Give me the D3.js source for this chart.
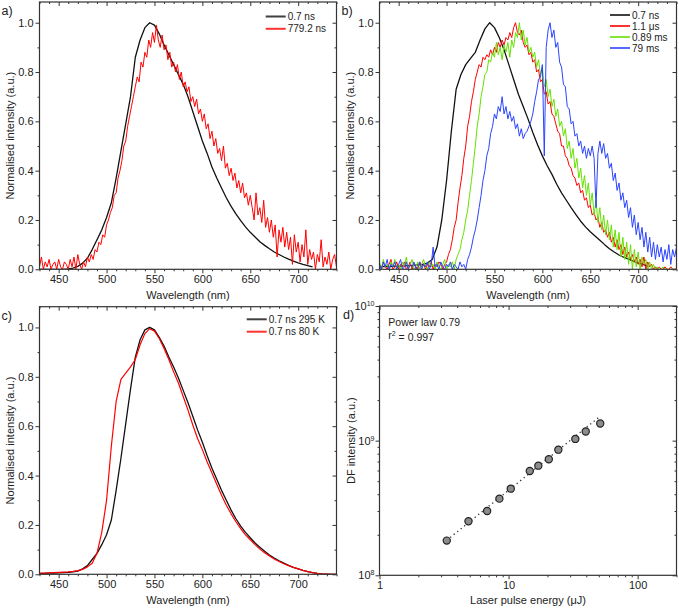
<!DOCTYPE html>
<html><head><meta charset="utf-8">
<script src="https://cdnjs.cloudflare.com/ajax/libs/d3/7.8.5/d3.min.js"></script>
<style>body{margin:0;background:#fff}svg{display:block}text{font-family:"Liberation Sans",Arial,sans-serif;fill:#222}</style>
</head><body><svg id="c" width="679" height="610"></svg>
<script>
// ---------- DATA ----------
const wlStart = 430;          // first wavelength (nm)
const smoothStep = 5;         // sampling of smooth spectra (nm)
const noisyStep = 2;          // sampling of noisy spectra (nm)
const xTickVals = [450, 500, 550, 600, 650, 700];
const xMinorVals = [430,440,460,470,480,490,510,520,530,540,560,570,580,590,610,620,630,640,660,670,680,690,710,720,730,740];
const yTickVals = [0, 0.2, 0.4, 0.6, 0.8, 1.0];
const yMinorVals = [0.1, 0.3, 0.5, 0.7, 0.9];

// panel a
const aBlack = [0,0,0,0,0,0,0.002,0.005,0.012,0.025,0.045,0.08,0.12,0.16,0.21,0.27,0.37,0.48,0.59,0.70,0.86,0.93,0.98,1.0,0.99,0.955,0.91,0.87,0.83,0.79,0.75,0.70,0.64,0.58,0.52,0.47,0.415,0.37,0.33,0.29,0.255,0.225,0.197,0.172,0.15,0.131,0.112,0.097,0.083,0.07,0.06,0.05,0.041,0.033,0.026,0.02,0.015,0.01];
const aRed = [
0.01,0.05,0.00,0.03,0.01, 0.04,0.00,0.02,0.03,0.00, 0.04,0.01,0.00,0.03,0.02, 0.00,0.04,0.01,0.05,0.00,
0.06,0.02,0.00,0.03,0.01, 0.05,0.03,0.06,0.04,0.08, 0.07,0.11,0.10,0.14,0.13, 0.18,0.20,0.23,0.25,0.30,
0.31,0.37,0.40,0.44,0.50, 0.52,0.58,0.62,0.66,0.70, 0.74,0.78,0.76,0.84,0.82, 0.88,0.86,0.93,0.90,0.96,
0.92,0.99,0.93,0.90,0.95, 0.89,0.91,0.85,0.88,0.82, 0.84,0.80,0.83,0.77,0.80, 0.74,0.76,0.72,0.74,0.68,
0.70,0.66,0.69,0.63,0.65, 0.60,0.63,0.57,0.59,0.53, 0.56,0.50,0.53,0.47,0.49, 0.44,0.50,0.41,0.43,0.38,
0.41,0.36,0.39,0.33,0.36, 0.31,0.35,0.29,0.31,0.26, 0.30,0.25,0.20,0.31,0.22, 0.25,0.19,0.28,0.17,0.21,
0.15,0.20,0.13,0.18,0.05, 0.16,0.11,0.17,0.09,0.15, 0.08,0.13,0.02,0.14,0.07, 0.11,0.03,0.10,0.05,0.16,
0.02,0.08,0.04,0.07,0.00, 0.06,0.03,0.12,0.01,0.05, 0.02,0.07,0.00,0.04,0.06, 0.01];

// panel b
const bBlack = [0.01,0.012,0.01,0.013,0.012,0.014,0.015,0.016,0.018,0.02,0.025,0.04,0.09,0.2,0.36,0.56,0.73,0.79,0.83,0.855,0.88,0.93,0.975,1.0,0.98,0.94,0.89,0.83,0.77,0.71,0.66,0.61,0.555,0.505,0.46,0.42,0.385,0.345,0.31,0.28,0.25,0.222,0.195,0.172,0.152,0.135,0.118,0.1,0.083,0.07,0.058,0.049,0.041,0.033,0.025,0.02,0.013];
const bRed = [
0.02,0.00,0.03,0.01,0.00, 0.02,0.04,0.00,0.01,0.03, 0.00,0.02,0.01,0.03,0.00, 0.01,0.03,0.00,0.02,0.01,
0.00,0.03,0.01,0.02,0.00, 0.02,0.01,0.03,0.00,0.02, 0.01,0.03,0.02,0.00,0.02, 0.03,0.06,0.08,0.12,0.17,
0.20,0.27,0.33,0.38,0.45, 0.50,0.58,0.62,0.68,0.72, 0.77,0.80,0.83,0.82,0.86, 0.85,0.87,0.86,0.89,0.87,
0.90,0.88,0.92,0.90,0.93, 0.91,0.94,0.93,0.96,0.94, 0.98,1.00,0.96,0.95,0.97, 0.92,0.90,0.91,0.87,0.88,
0.84,0.85,0.80,0.81,0.76, 0.77,0.71,0.72,0.67,0.68, 0.63,0.62,0.59,0.56,0.55, 0.50,0.50,0.46,0.45,0.42,
0.41,0.38,0.37,0.34,0.35, 0.31,0.32,0.28,0.29,0.25, 0.26,0.22,0.23,0.20,0.21, 0.17,0.19,0.15,0.16,0.13,
0.15,0.11,0.13,0.09,0.12, 0.08,0.10,0.06,0.09,0.05, 0.07,0.04,0.06,0.03,0.05, 0.02,0.04,0.01,0.05,0.00,
0.03,0.01,0.02,0.00,0.01, 0.00,0.01,0.00,0.00,0.01, 0.00,0.00,0.01,0.00,0.00, 0.00];
const bGreen = [
0.03,0.00,0.04,0.01,0.02, 0.00,0.03,0.01,0.04,0.00, 0.02,0.00,0.03,0.01,0.05, 0.00,0.02,0.04,0.00,0.01,
0.03,0.00,0.02,0.04,0.01, 0.00,0.03,0.01,0.02,0.00, 0.03,0.01,0.00,0.02,0.04, 0.00,0.02,0.01,0.03,0.00,
0.04,0.06,0.08,0.12,0.15, 0.20,0.24,0.30,0.36,0.43, 0.50,0.58,0.63,0.70,0.74, 0.79,0.80,0.85,0.84,0.88,
0.86,0.92,0.87,0.90,0.85, 0.91,0.88,0.92,0.86,0.93, 0.90,0.96,0.94,1.00,0.93, 0.97,0.91,0.94,0.88,0.90,
0.86,0.88,0.82,0.85,0.79, 0.82,0.74,0.77,0.70,0.73, 0.66,0.69,0.62,0.65,0.58, 0.60,0.54,0.57,0.49,0.52,
0.45,0.49,0.41,0.45,0.37, 0.41,0.33,0.38,0.30,0.35, 0.26,0.31,0.22,0.28,0.19, 0.25,0.16,0.22,0.14,0.20,
0.12,0.18,0.09,0.16,0.08, 0.15,0.05,0.13,0.04,0.11, 0.02,0.10,0.00,0.08,0.01, 0.07,0.00,0.05,0.02,0.04,
0.00,0.03,0.00,0.02,0.00, 0.01,0.00,0.00,0.01,0.00, 0.00,0.00,0.00,0.00,0.00, 0.00];
const bBlue = [
0.02,0.00,0.03,0.01,0.04, 0.00,0.02,0.01,0.03,0.00, 0.02,0.04,0.00,0.01,0.03, 0.00,0.02,0.01,0.03,0.00,
0.01,0.03,0.00,0.02,0.01, 0.03,0.00,0.02,0.09,0.01, 0.02,0.00,0.03,0.01,0.00, 0.02,0.01,0.03,0.00,0.02,
0.01,0.00,0.03,0.01,0.02, 0.00,0.04,0.06,0.09,0.13, 0.16,0.20,0.25,0.30,0.36, 0.40,0.46,0.49,0.55,0.58,
0.63,0.61,0.66,0.64,0.70, 0.63,0.66,0.61,0.64,0.60, 0.62,0.57,0.59,0.54,0.57, 0.53,0.55,0.56,0.58,0.60,
0.63,0.68,0.72,0.77,0.78, 0.83,0.46,0.90,0.97,1.00, 0.94,0.97,0.90,0.92,0.84, 0.82,0.75,0.74,0.66,0.65,
0.59,0.60,0.54,0.55,0.50, 0.52,0.47,0.50,0.45,0.49, 0.46,0.50,0.45,0.25,0.47, 0.52,0.47,0.51,0.45,0.47,
0.41,0.43,0.36,0.39,0.32, 0.35,0.28,0.31,0.25,0.28, 0.21,0.25,0.17,0.22,0.14, 0.19,0.12,0.17,0.09,0.15,
0.07,0.13,0.05,0.11,0.04, 0.10,0.05,0.09,0.03,0.08, 0.04,0.10,0.02,0.08,0.05, 0.09];

// panel c
const cBlack = [0.003,0.004,0.005,0.005,0.006,0.007,0.008,0.01,0.013,0.022,0.035,0.06,0.085,0.12,0.16,0.22,0.34,0.47,0.61,0.75,0.88,0.95,0.99,1.0,0.99,0.96,0.925,0.88,0.84,0.795,0.745,0.695,0.64,0.585,0.535,0.48,0.43,0.385,0.34,0.30,0.26,0.225,0.195,0.17,0.148,0.127,0.11,0.093,0.078,0.066,0.055,0.045,0.036,0.028,0.022,0.016,0.011,0.007,0.004,0.002,0.001,0,0];
const cRed = [0.005,0.005,0.006,0.007,0.008,0.009,0.01,0.012,0.015,0.02,0.03,0.045,0.085,0.17,0.30,0.52,0.70,0.79,0.815,0.84,0.87,0.93,0.975,0.995,0.985,0.955,0.915,0.87,0.82,0.775,0.72,0.665,0.605,0.55,0.505,0.455,0.41,0.365,0.32,0.28,0.245,0.213,0.185,0.16,0.14,0.12,0.102,0.087,0.074,0.062,0.052,0.043,0.035,0.028,0.022,0.016,0.011,0.007,0.004,0.002,0.001,0,0];

// panel d
const energy = [3.32, 4.89, 6.82, 8.49, 10.4, 14.6, 17.0, 20.5, 24.3, 32.9, 39.6, 51.3];
const dfIntensity = [1.81e8, 2.52e8, 3.00e8, 3.71e8, 4.40e8, 5.95e8, 6.52e8, 7.27e8, 8.57e8, 1.03e9, 1.17e9, 1.34e9];
const fitEnergy = [3.53, 51.3];
const fitIntensity = [1.91e8, 1.52e9];
const dXMajor = [1, 10, 100];
const dXMinor = [2,3,4,5,6,7,8,9,20,30,40,50,60,70,80,90,200];
const dYMajor = [1e8, 1e9, 1e10];
const dYMinor = [2e8,3e8,4e8,5e8,6e8,7e8,8e8,9e8,2e9,3e9,4e9,5e9,6e9,7e9,8e9,9e9];

// ---------- DRAW ----------
const svg = d3.select("#c");
const FRAME = "#333";

function styleAxis(sel, fs) {
  sel.attr("font-size", fs || 11).attr("font-family", '"Liberation Sans",Arial,sans-serif');
  sel.select(".domain").remove();
  sel.selectAll("line").attr("stroke", FRAME).attr("stroke-width", 1);
  sel.selectAll("text").attr("fill", "#222");
}
function addAxis(axis, tx, ty, fs) {
  const g = svg.append("g").attr("transform", `translate(${tx},${ty})`).call(axis);
  styleAxis(g, fs);
  return g;
}

function linPanel(p) {
  const x = d3.scaleLinear().domain([430, 740]).range([p.left, p.right]);
  const y = d3.scaleLinear().domain([0, 1.084]).range([p.bottom, p.top]);
  const clipId = "clip" + p.id;
  svg.append("clipPath").attr("id", clipId).append("rect")
    .attr("x", p.left).attr("y", p.top).attr("width", p.right - p.left).attr("height", p.bottom - p.top);
  const g = svg.append("g").attr("clip-path", `url(#${clipId})`);
  p.series.forEach(s => {
    const pts = s.values.map((v, i) => [wlStart + s.step * i, v]);
    g.append("path").datum(pts).attr("fill", "none")
      .attr("stroke", s.color).attr("stroke-width", s.width).attr("stroke-linejoin", "round")
      .attr("d", d3.line().x(d => x(d[0])).y(d => y(d[1])));
  });
  // axes
  addAxis(d3.axisBottom(x).tickValues(xTickVals).tickSizeInner(4).tickSizeOuter(0).tickPadding(2).tickFormat(d3.format("d")), 0, p.bottom);
  addAxis(d3.axisBottom(x).tickValues(xMinorVals).tickSizeInner(2).tickSizeOuter(0).tickFormat(""), 0, p.bottom);
  addAxis(d3.axisTop(x).tickValues(xTickVals).tickSizeInner(-4).tickSizeOuter(0).tickFormat(""), 0, p.top);
  addAxis(d3.axisTop(x).tickValues(xMinorVals).tickSizeInner(-2).tickSizeOuter(0).tickFormat(""), 0, p.top);
  addAxis(d3.axisLeft(y).tickValues(yTickVals).tickSizeInner(4).tickSizeOuter(0).tickPadding(2).tickFormat(d3.format(".1f")), p.left, 0);
  addAxis(d3.axisLeft(y).tickValues(yMinorVals).tickSizeInner(2).tickSizeOuter(0).tickFormat(""), p.left, 0);
  addAxis(d3.axisRight(y).tickValues(yTickVals).tickSizeInner(-4).tickSizeOuter(0).tickFormat(""), p.right, 0);
  addAxis(d3.axisRight(y).tickValues(yMinorVals).tickSizeInner(-2).tickSizeOuter(0).tickFormat(""), p.right, 0);
  svg.append("rect").attr("x", p.left).attr("y", p.top).attr("width", p.right - p.left).attr("height", p.bottom - p.top)
    .attr("fill", "none").attr("stroke", FRAME).attr("stroke-width", 1.2);
  // titles
  svg.append("text").attr("x", (p.left + p.right) / 2).attr("y", p.bottom + 30).attr("text-anchor", "middle")
    .attr("font-size", 11).text("Wavelength (nm)");
  svg.append("text").attr("transform", `translate(${p.left - 26},${(p.top + p.bottom) / 2}) rotate(-90)`)
    .attr("text-anchor", "middle").attr("font-size", 11).text("Normalised intensity (a.u.)");
  svg.append("text").attr("x", p.left - 38).attr("y", p.top + 13).attr("font-size", 12.5).text(p.letter);
  // legend
  p.legend.forEach((l, i) => {
    const ly = p.legY + i * p.legDy;
    svg.append("line").attr("x1", p.legX).attr("x2", p.legX + 20).attr("y1", ly).attr("y2", ly)
      .attr("stroke", l.color).attr("stroke-width", 2).attr("opacity", 0.8);
    svg.append("text").attr("x", p.legX + 22).attr("y", ly + 3.6).attr("font-size", 10).text(l.label);
  });
}

const RED = "#ff0000", GREEN = "#66e000", BLUE = "#2b44ff", BLACK = "#111";

linPanel({ id: "a", letter: "a)", left: 39.5, right: 336.5, top: 2, bottom: 269.3,
  series: [
    { values: aBlack, step: smoothStep, color: BLACK, width: 1.3 },
    { values: aRed, step: noisyStep, color: RED, width: 1 }
  ],
  legX: 265.7, legY: 16.5, legDy: 12.3,
  legend: [{ label: "0.7 ns", color: BLACK }, { label: "779.2 ns", color: RED }]
});
linPanel({ id: "b", letter: "b)", left: 379.5, right: 676.5, top: 2, bottom: 269.3,
  series: [
    { values: bBlack, step: smoothStep, color: BLACK, width: 1.3 },
    { values: bRed, step: noisyStep, color: RED, width: 1 },
    { values: bGreen, step: noisyStep, color: GREEN, width: 1 },
    { values: bBlue, step: noisyStep, color: BLUE, width: 1 }
  ],
  legX: 610, legY: 15, legDy: 11,
  legend: [{ label: "0.7 ns", color: BLACK }, { label: "1.1 \u03bcs", color: RED },
           { label: "0.89 ms", color: GREEN }, { label: "79 ms", color: BLUE }]
});
linPanel({ id: "c", letter: "c)", left: 39.5, right: 336.5, top: 306.7, bottom: 574.3,
  series: [
    { values: cBlack, step: smoothStep, color: BLACK, width: 1.3 },
    { values: cRed, step: smoothStep, color: RED, width: 1.2 }
  ],
  legX: 246.7, legY: 319.3, legDy: 12.4,
  legend: [{ label: "0.7 ns 295 K", color: BLACK }, { label: "0.7 ns 80 K", color: RED }]
});

// panel d (log-log)
(function () {
  const p = { left: 379.5, right: 676.5, top: 306, bottom: 575.3 };
  const x = d3.scaleLog().domain([1, 200]).range([p.left, p.right]);
  const y = d3.scaleLog().domain([1e8, 1e10]).range([p.bottom, p.top]);
  addAxis(d3.axisBottom(x).tickValues(dXMajor).tickSizeInner(4).tickSizeOuter(0).tickPadding(2).tickFormat(d3.format("d")), 0, p.bottom);
  addAxis(d3.axisBottom(x).tickValues(dXMinor).tickSizeInner(2).tickSizeOuter(0).tickFormat(""), 0, p.bottom);
  addAxis(d3.axisTop(x).tickValues(dXMajor).tickSizeInner(-4).tickSizeOuter(0).tickFormat(""), 0, p.top);
  addAxis(d3.axisTop(x).tickValues(dXMinor).tickSizeInner(-2).tickSizeOuter(0).tickFormat(""), 0, p.top);
  const yl = addAxis(d3.axisLeft(y).tickValues(dYMajor).tickSizeInner(4).tickSizeOuter(0).tickPadding(1).tickFormat(() => "10"), p.left, 0);
  yl.selectAll(".tick text").each(function (d) {
    d3.select(this).append("tspan").attr("dy", "-0.55em").attr("font-size", 7).text(Math.round(Math.log10(d)));
  });
  addAxis(d3.axisLeft(y).tickValues(dYMinor).tickSizeInner(2).tickSizeOuter(0).tickFormat(""), p.left, 0);
  addAxis(d3.axisRight(y).tickValues(dYMajor).tickSizeInner(-4).tickSizeOuter(0).tickFormat(""), p.right, 0);
  addAxis(d3.axisRight(y).tickValues(dYMinor).tickSizeInner(-2).tickSizeOuter(0).tickFormat(""), p.right, 0);
  svg.append("rect").attr("x", p.left).attr("y", p.top).attr("width", p.right - p.left).attr("height", p.bottom - p.top)
    .attr("fill", "none").attr("stroke", FRAME).attr("stroke-width", 1.2);
  // fit line
  svg.append("path").datum(fitEnergy.map((e, i) => [e, fitIntensity[i]]))
    .attr("fill", "none").attr("stroke", "#333").attr("stroke-width", 1.3).attr("stroke-dasharray", "1.3,3.2")
    .attr("d", d3.line().x(d => x(d[0])).y(d => y(d[1])));
  // points
  svg.append("g").selectAll("circle").data(energy.map((e, i) => [e, dfIntensity[i]])).join("circle")
    .attr("cx", d => x(d[0])).attr("cy", d => y(d[1])).attr("r", 3.6)
    .attr("fill", "#8c8c8c").attr("stroke", "#222").attr("stroke-width", 1.2);
  // texts
  svg.append("text").attr("x", 388.3).attr("y", 325.5).attr("font-size", 10.5).text("Power law 0.79");
  const r2 = svg.append("text").attr("x", 388.3).attr("y", 339).attr("font-size", 10.5);
  r2.append("tspan").text("r");
  r2.append("tspan").attr("dy", "-0.5em").attr("font-size", 7).text("2");
  r2.append("tspan").attr("dy", "0.5em").text(" = 0.997");
  svg.append("text").attr("x", (p.left + p.right) / 2).attr("y", 604).attr("text-anchor", "middle")
    .attr("font-size", 11).text("Laser pulse energy (\u03bcJ)");
  svg.append("text").attr("transform", `translate(${p.left - 25},${(p.top + p.bottom) / 2}) rotate(-90)`)
    .attr("text-anchor", "middle").attr("font-size", 11).text("DF intensity (a.u.)");
  svg.append("text").attr("x", 343).attr("y", p.top + 12.5).attr("font-size", 12.5).text("d)");
})();
</script></body></html>
